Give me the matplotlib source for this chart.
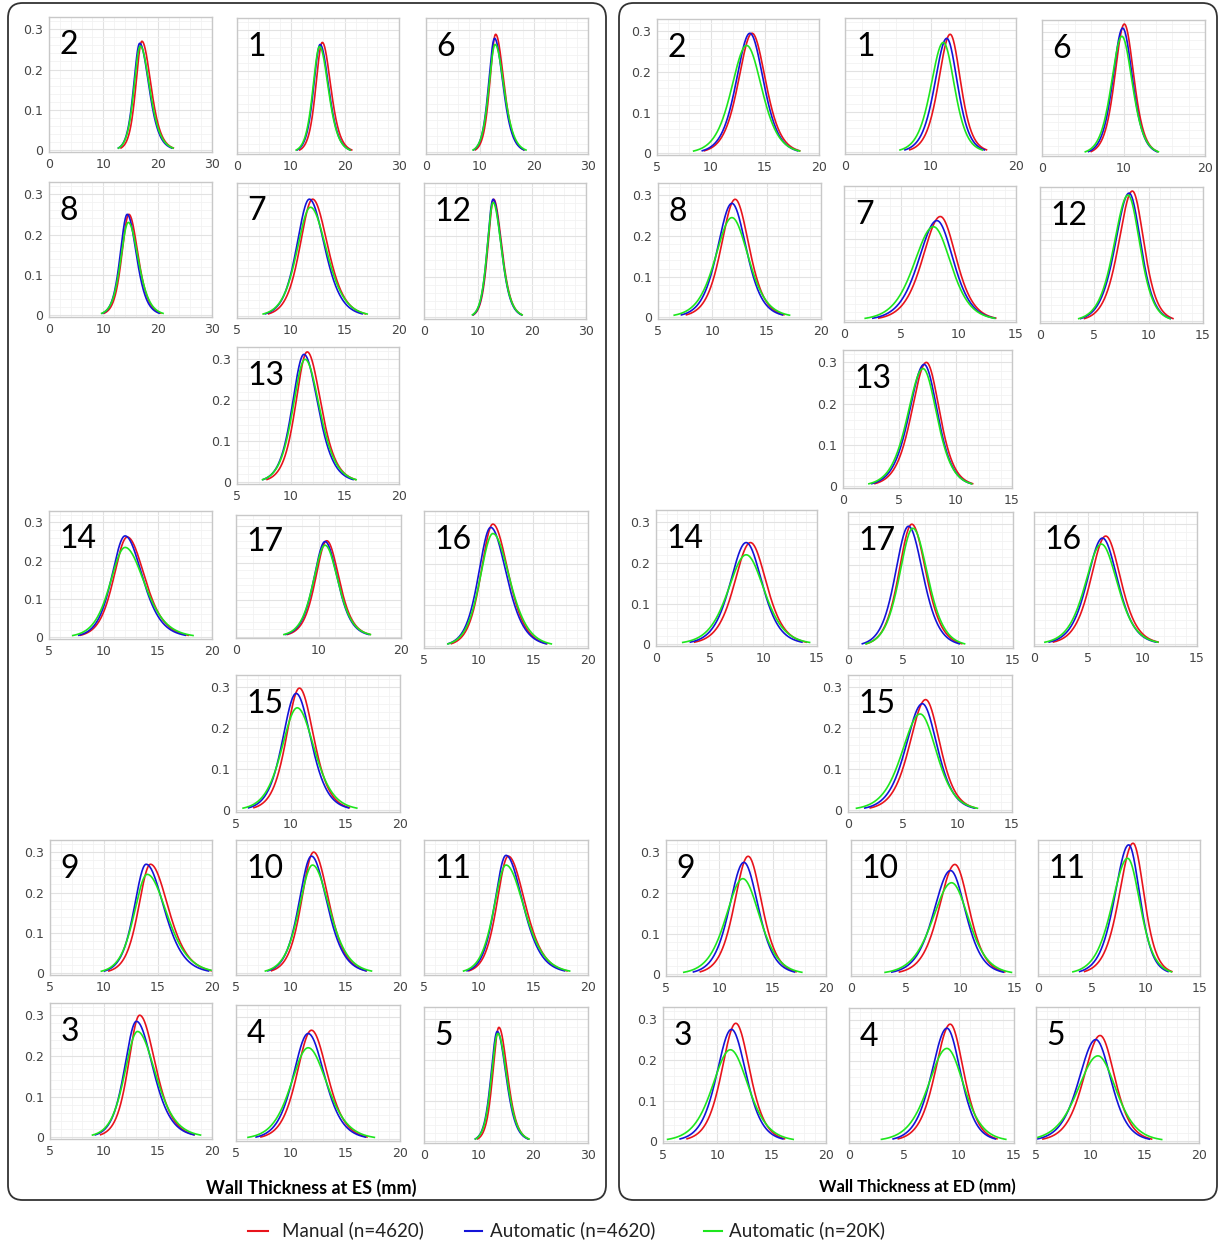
import numpy as np
import matplotlib.pyplot as plt
from matplotlib.lines import Line2D
from matplotlib.patches import FancyBboxPatch
from matplotlib.ticker import MultipleLocator, FuncFormatter

W, H = 1218, 1244

# --- data: per segment, mode (mm) and peak density of each curve ---
# ES panel
es_labels = ["2", "1", "6", "8", "7", "12", "13", "14", "17", "16", "15", "9", "10", "11", "3", "4", "5"]
es_xrange = [(0, 30), (0, 30), (0, 30), (0, 30), (5, 20), (0, 30), (5, 20), (5, 20), (0, 20),
             (5, 20), (5, 20), (5, 20), (5, 20), (5, 20), (5, 20), (5, 20), (0, 30)]
es_manual_mode = [17.1, 15.8, 12.9, 14.7, 12.0, 12.9, 11.5, 12.2, 11.0, 11.3, 10.8, 14.3, 12.1, 12.7, 13.3, 11.9, 13.7]
es_manual_peak = [0.270, 0.270, 0.290, 0.250, 0.290, 0.290, 0.318, 0.262, 0.260, 0.298, 0.298, 0.270, 0.300, 0.290, 0.300, 0.268, 0.280]
es_auto_mode = [16.7, 15.4, 12.7, 14.4, 11.7, 12.8, 11.2, 12.0, 10.8, 11.1, 10.5, 13.9, 11.9, 12.5, 13.0, 11.6, 13.4]
es_auto_peak = [0.265, 0.265, 0.280, 0.250, 0.290, 0.290, 0.312, 0.265, 0.258, 0.290, 0.285, 0.270, 0.290, 0.292, 0.285, 0.260, 0.270]
es_20k_mode = [16.8, 15.3, 12.8, 14.6, 11.8, 12.8, 11.3, 12.0, 10.8, 11.3, 10.6, 14.0, 12.0, 12.5, 13.1, 11.6, 13.5]
es_20k_peak = [0.258, 0.260, 0.265, 0.230, 0.270, 0.282, 0.300, 0.235, 0.248, 0.275, 0.250, 0.245, 0.268, 0.268, 0.260, 0.225, 0.265]
es_skew = [1.5, 1.3, 1.4, 1.3, 1.2, 1.4, 1.2, 1.3, 1.1, 1.3, 1.1, 1.5, 1.25, 1.5, 1.4, 1.1, 1.4]

# ED panel
ed_labels = ["2", "1", "6", "8", "7", "12", "13", "14", "17", "16", "15", "9", "10", "11", "3", "4", "5"]
ed_xrange = [(5, 20), (0, 20), (0, 20), (5, 20), (0, 15), (0, 15), (0, 15), (0, 15), (0, 15),
             (0, 15), (0, 15), (5, 20), (0, 15), (0, 15), (5, 20), (0, 15), (5, 20)]
ed_manual_mode = [13.8, 12.3, 10.1, 12.1, 8.4, 8.5, 7.4, 8.8, 5.8, 6.6, 7.1, 12.7, 9.5, 8.8, 11.7, 9.2, 10.9]
ed_manual_peak = [0.295, 0.290, 0.320, 0.290, 0.255, 0.320, 0.300, 0.250, 0.300, 0.270, 0.270, 0.290, 0.270, 0.322, 0.290, 0.290, 0.260]
ed_auto_mode = [13.6, 11.9, 9.9, 11.8, 8.1, 8.2, 7.2, 8.4, 5.5, 6.3, 6.8, 12.3, 9.1, 8.4, 11.3, 8.9, 10.5]
ed_auto_peak = [0.295, 0.280, 0.310, 0.280, 0.245, 0.315, 0.295, 0.250, 0.295, 0.265, 0.260, 0.275, 0.255, 0.318, 0.275, 0.280, 0.250]
ed_20k_mode = [13.3, 11.5, 9.8, 11.8, 7.8, 8.1, 7.1, 8.4, 5.9, 6.2, 6.6, 12.2, 9.2, 8.3, 11.2, 8.9, 10.7]
ed_20k_peak = [0.265, 0.270, 0.290, 0.245, 0.230, 0.310, 0.285, 0.220, 0.290, 0.250, 0.235, 0.235, 0.225, 0.285, 0.225, 0.230, 0.210]
ed_skew = [1.0, 0.9, 1.0, 1.0, 0.9, 0.85, 0.9, 1.0, 1.1, 1.0, 0.9, 1.0, 0.9, 0.8, 1.0, 0.9, 0.9]

series_names = ["Manual (n=4620)", "Automatic (n=4620)", "Automatic (n=20K)"]
series_colors = ["#e8141c", "#1414d8", "#1ee61e"]

# --- layout (pixel boxes: left, top, right, bottom) ---
es_boxes = [(49, 17, 212, 152), (237, 18, 399, 154), (426, 18, 588, 154),
            (49, 182, 212, 317), (237, 183, 399, 318), (424, 183, 586, 319),
            (237, 347, 399, 484),
            (49, 511, 212, 639), (236, 515, 401, 638), (424, 511, 588, 648),
            (236, 675, 400, 812),
            (50, 840, 212, 975), (236, 840, 400, 975), (424, 840, 588, 975),
            (50, 1003, 212, 1139), (236, 1005, 400, 1141), (424, 1007, 588, 1143)]
ed_boxes = [(657, 19, 819, 155), (845, 18, 1016, 154), (1042, 20, 1205, 156),
            (658, 183, 821, 319), (844, 186, 1016, 322), (1040, 187, 1203, 323),
            (843, 350, 1012, 488),
            (656, 510, 817, 646), (848, 512, 1013, 648), (1034, 512, 1197, 646),
            (848, 675, 1012, 812),
            (666, 840, 826, 976), (851, 840, 1015, 976), (1038, 840, 1200, 976),
            (663, 1007, 826, 1143), (849, 1008, 1014, 1143), (1036, 1007, 1199, 1143)]
ylabel_idx = [0, 3, 6, 7, 10, 11, 14]

LABEL_FONT = ["Lato", "DejaVu Sans"]


def rect(l, t, r, b):
  return [l / W, 1 - b / H, (r - l) / W, (b - t) / H]


def density(mode, peak, skew):
  # two-piece logistic-shaped density with unit area (mode, peak, right/left width ratio)
  total = 1.0 / (2.0 * peak)
  sl = total / (1 + skew)
  sr = total - sl
  x = np.linspace(mode - 5.2 * sl, mode + 5.2 * sr, 300)
  s = np.where(x < mode, sl, sr)
  return x, peak / np.cosh((x - mode) / (2 * s)) ** 2


def draw_panel(fig, labels, xranges, modes, peaks, skews, boxes):
  for i, lab in enumerate(labels):
    ax = fig.add_axes(rect(*boxes[i]))
    lo, hi = xranges[i]
    step = 10 if hi - lo >= 20 else 5
    for k in range(3):
      x, y = density(modes[k][i], peaks[k][i], skews[i])
      ax.plot(x, y, color=series_colors[k], lw=1.2)
    ax.set_xlim(lo, hi)
    ax.set_ylim(-0.004, 0.33)
    ax.xaxis.set_major_locator(MultipleLocator(step))
    ax.xaxis.set_minor_locator(MultipleLocator(step / 5))
    ax.yaxis.set_major_locator(MultipleLocator(0.1))
    ax.yaxis.set_minor_locator(MultipleLocator(0.02))
    ax.xaxis.set_major_formatter(FuncFormatter(lambda v, p: "%d" % v))
    ax.yaxis.set_major_formatter(FuncFormatter(lambda v, p: "0" if abs(v) < 1e-9 else "%.1f" % v))
    ax.grid(which="major", color="#e2e2e2", lw=0.8)
    ax.grid(which="minor", color="#f2f2f2", lw=0.6)
    ax.set_axisbelow(True)
    ax.tick_params(which="both", length=0, labelsize=9, labelcolor="#444444", pad=4)
    if i not in ylabel_idx:
      ax.tick_params(axis="y", labelleft=False)
    for sp in ax.spines.values():
      sp.set_color("#c8c8c8")
      sp.set_linewidth(1.0)
    ax.text(0.065, 0.9, lab, transform=ax.transAxes, va="top", ha="left",
            fontsize=23, family=LABEL_FONT, color="black")


fig = plt.figure(figsize=(W / 100, H / 100), dpi=100)

# panel frames
for l, r in [(8, 606), (619, 1217)]:
  frame = FancyBboxPatch((l / W, 1 - 1200 / H), (r - l) / W, 1197 / H,
                         boxstyle="round,pad=0,rounding_size=0.012",
                         transform=fig.transFigure, fill=False,
                         edgecolor="#333333", lw=1.3)
  fig.patches.append(frame)

draw_panel(fig, es_labels, es_xrange,
           [es_manual_mode, es_auto_mode, es_20k_mode],
           [es_manual_peak, es_auto_peak, es_20k_peak], es_skew, es_boxes)
draw_panel(fig, ed_labels, ed_xrange,
           [ed_manual_mode, ed_auto_mode, ed_20k_mode],
           [ed_manual_peak, ed_auto_peak, ed_20k_peak], ed_skew, ed_boxes)

fig.text(311 / W, 1 - 1188 / H, "Wall Thickness at ES (mm)", ha="center", va="center",
         fontsize=13, fontweight="bold", family=LABEL_FONT)
fig.text(917 / W, 1 - 1187 / H, "Wall Thickness at ED (mm)", ha="center", va="center",
         fontsize=12, fontweight="bold", family=LABEL_FONT)

# legend
leg_line_x = [(248, 268), (465, 482), (704, 722)]
leg_text_x = [282, 490, 729]
for k in range(3):
  x0, x1 = leg_line_x[k]
  fig.add_artist(Line2D([x0 / W, x1 / W], [1 - 1231 / H] * 2, color=series_colors[k],
                        lw=1.5, transform=fig.transFigure))
  fig.text(leg_text_x[k] / W, 1 - 1230 / H, series_names[k], ha="left", va="center",
           fontsize=13.5, family=LABEL_FONT, color="#222222")

fig.savefig("out.png", dpi=100)
